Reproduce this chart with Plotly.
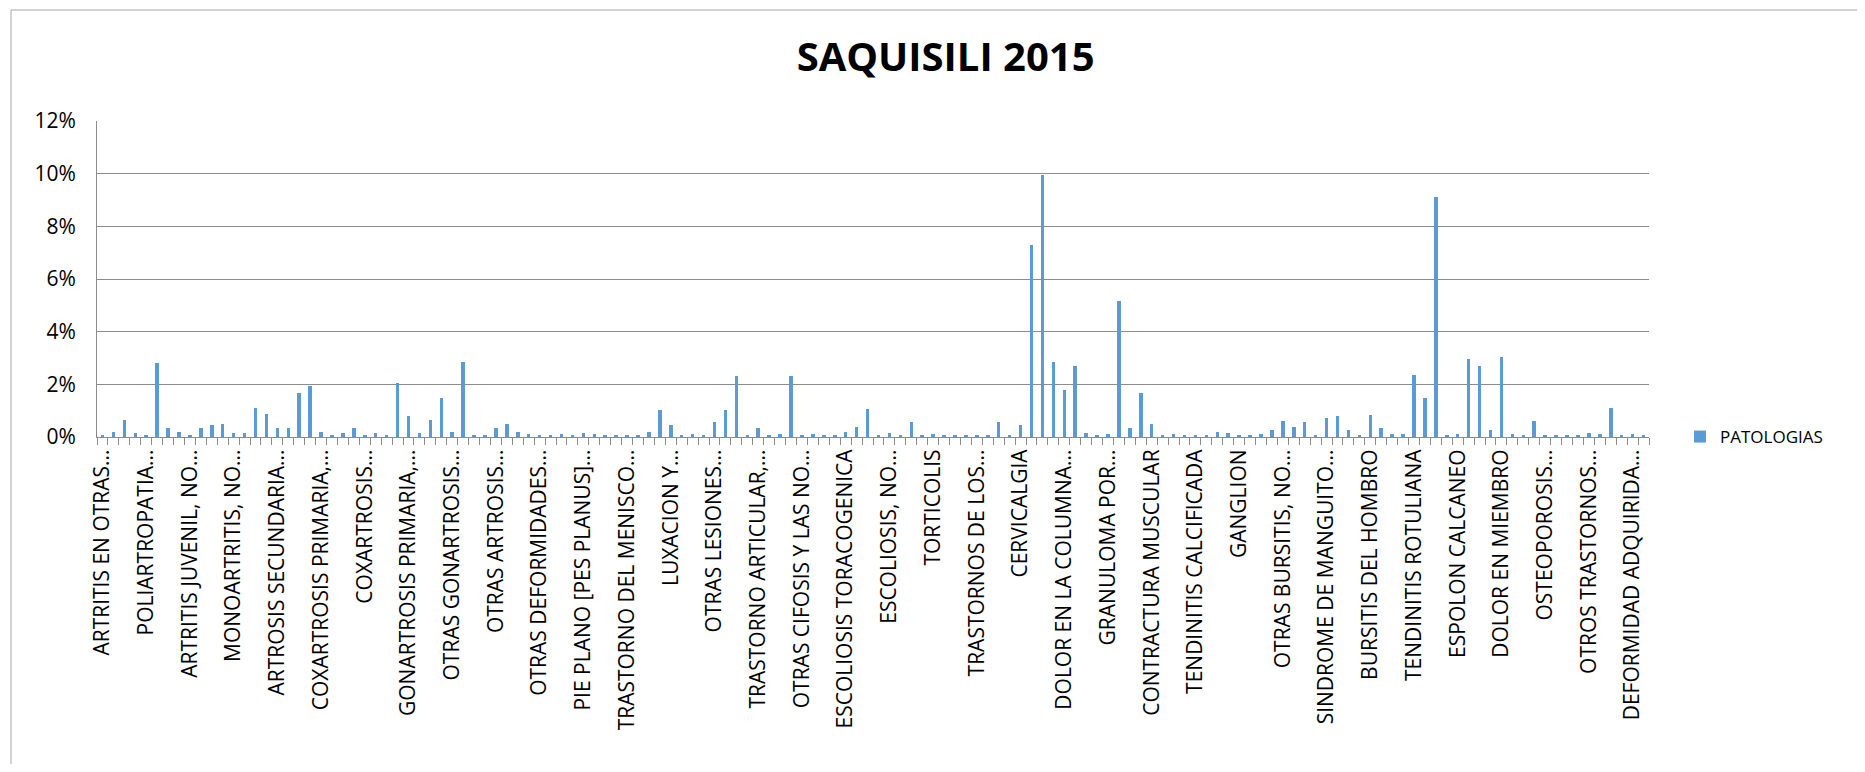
import plotly.graph_objects as go

# ---- data ----
series_name = "PATOLOGIAS"
title_text = "SAQUISILI 2015"

# percentage of cases per pathology (142 categories, in chart order)
values_pct = [
    0.06, 0.20, 0.66, 0.16, 0.06, 2.80, 0.33, 0.20, 0.06, 0.33,
    0.44, 0.49, 0.16, 0.16, 1.11, 0.89, 0.33, 0.33, 1.67, 1.95,
    0.20, 0.06, 0.16, 0.33, 0.06, 0.16, 0.06, 2.05, 0.78, 0.16,
    0.66, 1.49, 0.20, 2.85, 0.06, 0.06, 0.33, 0.49, 0.20, 0.10,
    0.06, 0.06, 0.10, 0.06, 0.16, 0.10, 0.06, 0.06, 0.06, 0.06,
    0.20, 1.01, 0.44, 0.06, 0.10, 0.06, 0.56, 1.01, 2.30, 0.06,
    0.33, 0.06, 0.10, 2.30, 0.06, 0.10, 0.06, 0.06, 0.20, 0.38,
    1.05, 0.06, 0.16, 0.06, 0.56, 0.06, 0.10, 0.06, 0.06, 0.06,
    0.06, 0.06, 0.56, 0.06, 0.44, 7.30, 9.95, 2.85, 1.77, 2.68,
    0.16, 0.06, 0.10, 5.15, 0.33, 1.67, 0.49, 0.06, 0.10, 0.06,
    0.06, 0.06, 0.20, 0.16, 0.06, 0.06, 0.10, 0.28, 0.61, 0.38,
    0.56, 0.06, 0.72, 0.78, 0.28, 0.06, 0.84, 0.33, 0.10, 0.10,
    2.35, 1.49, 9.10, 0.06, 0.10, 2.95, 2.68, 0.28, 3.02, 0.10,
    0.06, 0.61, 0.06, 0.06, 0.06, 0.06, 0.16, 0.10, 1.11, 0.06,
    0.10, 0.06,
]

# labels shown on the axis (every 4th category)
tick_labels = [
    "ARTRITIS EN OTRAS...", "POLIARTROPATIA...", "ARTRITIS JUVENIL, NO...",
    "MONOARTRITIS, NO...", "ARTROSIS SECUNDARIA...", "COXARTROSIS PRIMARIA,...",
    "COXARTROSIS...", "GONARTROSIS PRIMARIA,...", "OTRAS GONARTROSIS...",
    "OTRAS ARTROSIS...", "OTRAS DEFORMIDADES...", "PIE PLANO [PES PLANUS]...",
    "TRASTORNO DEL MENISCO...", "LUXACION Y...", "OTRAS LESIONES...",
    "TRASTORNO ARTICULAR,...", "OTRAS CIFOSIS Y LAS NO...", "ESCOLIOSIS TORACOGENICA",
    "ESCOLIOSIS, NO...", "TORTICOLIS", "TRASTORNOS DE LOS...",
    "CERVICALGIA", "DOLOR EN LA COLUMNA...", "GRANULOMA POR...",
    "CONTRACTURA MUSCULAR", "TENDINITIS CALCIFICADA", "GANGLION",
    "OTRAS BURSITIS, NO...", "SINDROME DE MANGUITO...", "BURSITIS DEL HOMBRO",
    "TENDINITIS ROTULIANA", "ESPOLON CALCANEO", "DOLOR EN MIEMBRO",
    "OSTEOPOROSIS...", "OTROS TRASTORNOS...", "DEFORMIDAD ADQUIRIDA...",
]
label_step = 4

# ---- derived ----
n = len(values_pct)
x_idx = list(range(n))
y_vals = [v / 100 for v in values_pct]
tick_vals = [i * label_step for i in range(len(tick_labels))]
boundaries = [i - 0.5 for i in range(n + 1)]

# page has an 8px body margin, so the figure is sized to fit the 1865x772 view
W, H = 1857, 756
L, T = 89, 113
PR, PB = 1641, 429          # plot right / bottom (figure coords)
R, B = W - PR, H - PB
pw, ph = PR - L, PB - T

FONT = "Open Sans, Calibri, Arial, sans-serif"
GRID = "#8c8c8c"


def px(xf):
    return (xf - L) / pw


def py(yf):
    return (PB - yf) / ph


fig = go.Figure()
fig.add_trace(go.Bar(
    x=x_idx, y=y_vals, name=series_name,
    marker=dict(color="#5B9BD5", line=dict(width=0)),
    width=0.32, showlegend=True,
))

fig.update_layout(
    width=W, height=H,
    margin=dict(l=L, r=R, t=T, b=B, pad=0),
    paper_bgcolor="white", plot_bgcolor="white",
    font=dict(family=FONT, color="black", size=17),
    title=dict(text="<b>" + title_text + "</b>", x=937.6 / W, xanchor="center",
               y=1 - 49 / H, yanchor="middle",
               font=dict(family=FONT, size=40, color="black")),
    showlegend=True,
    legend=dict(x=px(1672), xanchor="left", y=0, yanchor="middle",
                font=dict(family=FONT, size=17, color="black"),
                bgcolor="rgba(0,0,0,0)"),
    bargap=0,
)

fig.update_xaxes(
    range=[-0.5, n - 0.5],
    tickmode="array", tickvals=tick_vals, ticktext=tick_labels,
    tickangle=-90, tickfont=dict(family=FONT, size=21, color="black"),
    ticks="outside", ticklen=8, tickcolor="rgba(0,0,0,0)",
    ticklabelstandoff=-5,
    showline=True, linecolor=GRID, linewidth=1,
    showgrid=False, zeroline=False,
    minor=dict(tickmode="array", tickvals=boundaries, ticks="outside",
               ticklen=7, tickcolor=GRID, tickwidth=1, showgrid=False),
)

fig.update_yaxes(
    range=[0, 0.12], tickmode="linear", tick0=0, dtick=0.02,
    tickformat=".0%", tickfont=dict(family=FONT, size=21, color="black"),
    showgrid=True, gridcolor=GRID, gridwidth=1,
    showline=True, linecolor=GRID, linewidth=1,
    zeroline=False, ticks="", ticklabelstandoff=16,
)

# chart area border (right and bottom edges lie outside the visible page)
fig.add_shape(type="rect", xref="paper", yref="paper",
              x0=px(3), x1=px(1880), y0=py(790), y1=py(2),
              line=dict(color="#a6a6a6", width=1), fillcolor="rgba(0,0,0,0)",
              layer="below")

fig.write_html("out.html")
